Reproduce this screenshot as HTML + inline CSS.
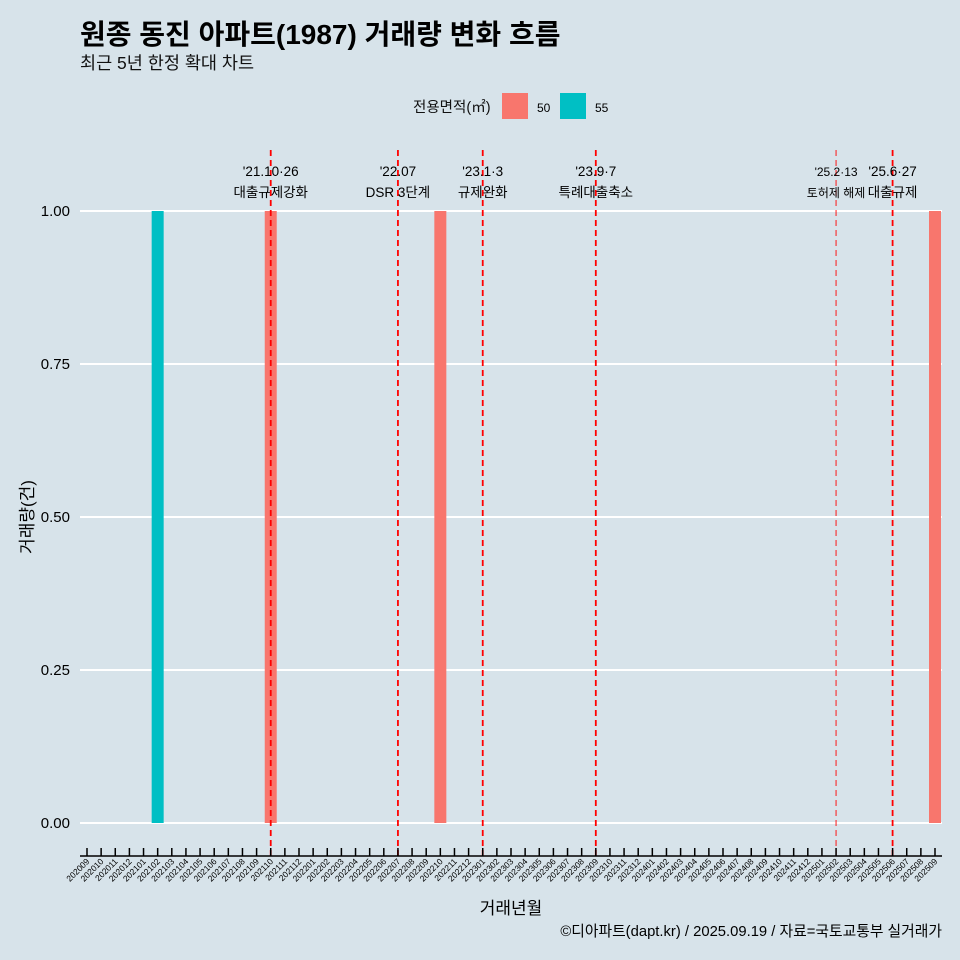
<!DOCTYPE html>
<html><head><meta charset="utf-8"><style>
body{margin:0;background:#d7e3ea;}
svg{display:block;font-family:"Liberation Sans","Noto Sans CJK KR",sans-serif;}
</style></head><body>
<svg id="c" width="960" height="960" viewBox="0 0 960 960">
<rect width="960" height="960" fill="#d7e3ea"/>
<text x="80" y="44" font-size="28" font-weight="bold" fill="#000">원종 동진 아파트(1987) 거래량 변화 흐름</text>
<text x="80" y="69" font-size="17.5" fill="#111">최근 5년 한정 확대 차트</text>
<g>
<text x="413" y="112" font-size="14.5" fill="#111">전용면적(㎡)</text>
<rect x="502" y="93" width="26" height="26" fill="#f8766d"/>
<text x="537" y="112" font-size="12">50</text>
<rect x="560" y="93" width="26" height="26" fill="#00bfc4"/>
<text x="595" y="112" font-size="12">55</text>
</g>
<g id="grid"></g><g id="bars"></g><g id="vl"></g><g id="xa"></g>
<text transform="translate(33,517) rotate(-90)" text-anchor="middle" font-size="17">거래량(건)</text>
<text x="511" y="914" text-anchor="middle" font-size="17">거래년월</text>
<text x="942" y="936" text-anchor="end" font-size="14.8">©디아파트(dapt.kr) / 2025.09.19 / 자료=국토교통부 실거래가</text>
</svg>
<script>
const months=[];for(let y=2020,m=9;y<2025||(y==2025&&m<=9);){months.push(''+y+(m<10?'0':'')+m);m++;if(m>12){m=1;y++;}}
const barMonths=['202102','202110','202210','202509'];
const barValues=[1,1,1,1];
const barSeries=['55','50','50','50'];
const yTicks=[0,0.25,0.5,0.75,1];
const yTickLabels=['0.00','0.25','0.50','0.75','1.00'];
const eventMonths=['202110','202207','202301','202309','202502','202506'];
const eventLine1=["'21.10·26","'22.07","'23.1·3","'23.9·7","'25.2·13","'25.6·27"];
const eventLine2=['대출규제강화','DSR 3단계','규제완화','특례대출축소','토허제 해제','대출규제'];
const NS='http://www.w3.org/2000/svg';
const X=i=>87+i*(935-87)/(months.length-1);
const Y=v=>823-v*(823-211);
const col={'50':'#f8766d','55':'#00bfc4'};
function mk(t,a,p){const e=document.createElementNS(NS,t);for(const k in a)e.setAttribute(k,a[k]);p.appendChild(e);return e;}
const g=document.getElementById('grid');
yTicks.forEach((v,i)=>{
 const l=mk('line',{x1:80,x2:942,y1:Y(v),y2:Y(v),stroke:'#fff','stroke-width':2},g);
 
 
 const t=mk('text',{x:70,y:Y(v)+5,'text-anchor':'end','font-size':15},g);t.textContent=yTickLabels[i];
 
 
});
const b=document.getElementById('bars');
barMonths.forEach((m,i)=>{
 const x=X(months.indexOf(m));
 const r=mk('rect',{x:x-6,width:12,y:Y(barValues[i]),height:Y(0)-Y(barValues[i]),fill:col[barSeries[i]]},b);
 
 
});
const vl=document.getElementById('vl');
eventMonths.forEach((m,i)=>{
 const x=X(months.indexOf(m));const small=m==='202502';
 const l=mk('line',{x1:x,x2:x,y1:150,y2:860,stroke:'red','stroke-width':small?1.2:1.8,'stroke-dasharray':'6,4',opacity:small?0.75:1},vl);
 
 
 const fs=small?12:13.5;
 const t1=mk('text',{x:x,y:176,'text-anchor':'middle','font-size':fs},vl);t1.textContent=eventLine1[i];
 
 
 const t2=mk('text',{x:x,y:197,'text-anchor':'middle','font-size':fs},vl);t2.textContent=eventLine2[i];
 
 
});
const xa=document.getElementById('xa');
const ax=mk('line',{x1:80,x2:942,y1:856,y2:856,stroke:'#000','stroke-width':1.5},xa);


months.forEach((m,i)=>{
 const x=X(i);
 mk('line',{x1:x,x2:x,y1:848,y2:856,stroke:'#000','stroke-width':1.5},xa);
 const t=mk('text',{x:x+3,y:862,'text-anchor':'end','font-size':8.5,transform:`rotate(-45 ${x+3} 862)`},xa);t.textContent=m;
 
 
});
</script>
</body></html>
